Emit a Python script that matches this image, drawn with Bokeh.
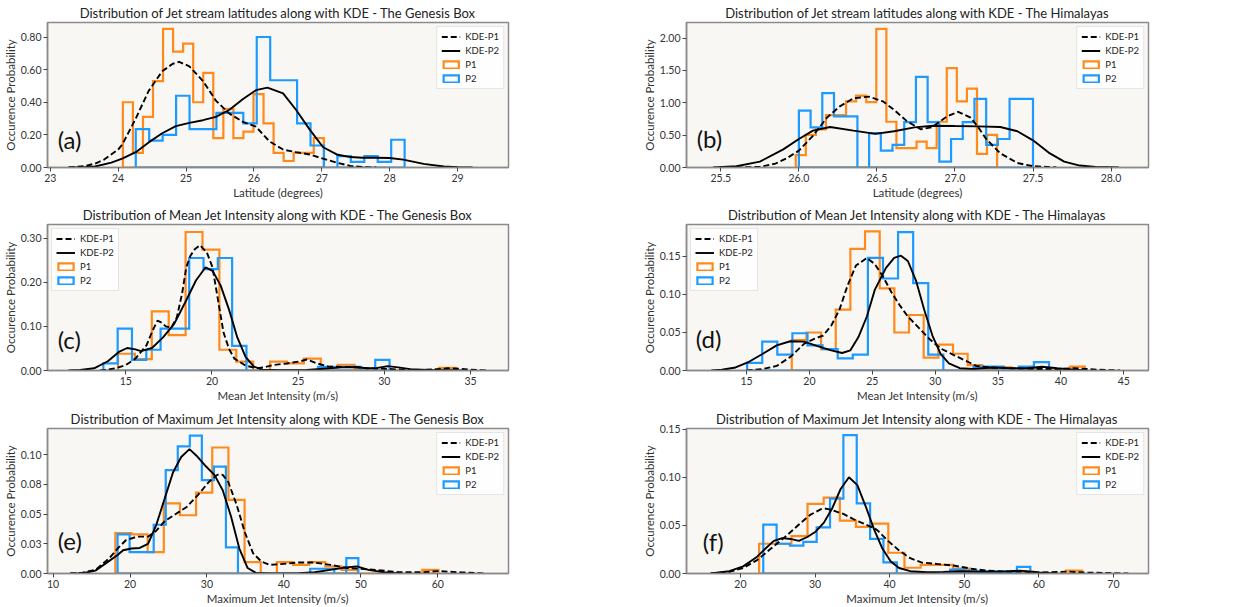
import numpy as np
from bokeh.plotting import figure
from bokeh.layouts import column, row
from bokeh.models import FixedTicker, Label, Legend, LegendItem, Range1d
from bokeh.embed import file_html
from bokeh.resources import INLINE

# ---------------- DATA ----------------
TITLES = [
    "Distribution of Jet stream latitudes along with KDE - The Genesis Box",
    "Distribution of Jet stream latitudes along with KDE - The Himalayas",
    "Distribution of Mean Jet Intensity along with KDE - The Genesis Box",
    "Distribution of Mean Jet Intensity along with KDE - The Himalayas",
    "Distribution of Maximum Jet Intensity along with KDE - The Genesis Box",
    "Distribution of Maximum Jet Intensity along with KDE - The Himalayas",
]
XLABELS = ["Latitude (degrees)", "Latitude (degrees)",
           "Mean Jet Intensity (m/s)", "Mean Jet Intensity (m/s)",
           "Maximum Jet Intensity (m/s)", "Maximum Jet Intensity (m/s)"]
YLABEL = "Occurence Probability"
TAGS = ["(a)", "(b)", "(c)", "(d)", "(e)", "(f)"]
SERIES = ["KDE-P1", "KDE-P2", "P1", "P2"]

# (a) latitude - Genesis Box
a_p1_start, a_p1_width = 24.07, 0.148
a_p1_h = [0.40, 0.09, 0.31, 0.53, 0.85, 0.71, 0.76, 0.40, 0.58, 0.18,
          0.36, 0.18, 0.22, 0.45, 0.27, 0.09, 0.04, 0.09, 0.09, 0.18]
a_p2_start, a_p2_width = 24.26, 0.198
a_p2_h = [0.235, 0.165, 0.20, 0.44, 0.235, 0.235, 0.335, 0.335, 0.27, 0.80,
          0.535, 0.535, 0.27, 0.135, 0.0, 0.07, 0.035, 0.07, 0.035, 0.17]
a_k1_x = [23.27, 23.5, 23.66, 23.8, 24.0, 24.06, 24.26, 24.45, 24.65, 24.8, 24.9, 25.05, 25.25,
          25.44, 25.64, 25.84, 26.03, 26.23, 26.43, 26.62, 26.82, 27.02, 27.22, 27.42, 27.6, 27.8]
a_k1_y = [0.0, 0.008, 0.024, 0.05, 0.11, 0.14, 0.30, 0.47, 0.59, 0.635, 0.648, 0.62, 0.53,
          0.41, 0.33, 0.28, 0.25, 0.16, 0.11, 0.094, 0.08, 0.054, 0.03, 0.01, 0.003, 0.0]
a_k2_x = [23.27, 23.5, 23.66, 23.9, 24.06, 24.26, 24.45, 24.65, 24.85, 25.05, 25.25, 25.44, 25.64,
          25.84, 26.03, 26.2, 26.43, 26.62, 26.82, 27.02, 27.22, 27.42, 27.6, 27.8, 28.0, 28.2,
          28.5, 28.8, 29.0, 29.22]
a_k2_y = [0.0, 0.002, 0.006, 0.03, 0.054, 0.094, 0.154, 0.21, 0.254, 0.274, 0.29, 0.31, 0.354,
          0.42, 0.474, 0.49, 0.454, 0.354, 0.234, 0.124, 0.08, 0.064, 0.06, 0.06, 0.058, 0.048,
          0.022, 0.006, 0.002, 0.0]
a_xticks = [23, 24, 25, 26, 27, 28, 29]
a_xlabels = ["23", "24", "25", "26", "27", "28", "29"]
a_yticks = [0.0, 0.2, 0.4, 0.6, 0.8]
a_ylabels = ["0.00", "0.20", "0.40", "0.60", "0.80"]

# (b) latitude - Himalayas
b_p1_start, b_p1_width = 25.98, 0.0645
b_p1_h = [0.19, 0.505, 0.59, 0.81, 0.81, 1.02, 1.11, 1.01, 2.14, 0.707,
          0.30, 0.30, 0.40, 0.30, 0.707, 1.535, 1.02, 1.22, 0.21, 0.505]
b_p2_start, b_p2_width = 26.0, 0.075
b_p2_h = [0.88, 0.62, 1.15, 0.79, 0.79, 0.0, 0.53, 0.26, 0.35, 0.70,
          1.40, 0.70, 0.09, 0.44, 0.70, 1.06, 0.35, 0.44, 1.06, 1.06]
b_k1_x = [25.6, 25.75, 25.85, 25.92, 26.0, 26.09, 26.18, 26.26, 26.35, 26.45, 26.54, 26.61,
          26.69, 26.78, 26.85, 26.95, 27.02, 27.1, 27.15, 27.2, 27.29, 27.4, 27.5, 27.65]
b_k1_y = [0.0, 0.01, 0.06, 0.14, 0.26, 0.49, 0.77, 0.94, 1.07, 1.095, 1.02, 0.89,
          0.72, 0.59, 0.62, 0.79, 0.86, 0.77, 0.62, 0.44, 0.22, 0.07, 0.02, 0.0]
b_k2_x = [25.45, 25.6, 25.75, 25.9, 26.0, 26.09, 26.2, 26.35, 26.49, 26.61, 26.74, 26.86,
          27.0, 27.15, 27.29, 27.4, 27.5, 27.6, 27.7, 27.8, 27.9, 28.05]
b_k2_y = [0.0, 0.02, 0.09, 0.28, 0.44, 0.57, 0.625, 0.57, 0.52, 0.56, 0.62, 0.645,
          0.64, 0.635, 0.625, 0.56, 0.42, 0.23, 0.09, 0.03, 0.01, 0.0]
b_xticks = [25.5, 26.0, 26.5, 27.0, 27.5, 28.0]
b_xlabels = ["25.5", "26.0", "26.5", "27.0", "27.5", "28.0"]
b_yticks = [0.0, 0.5, 1.0, 1.5, 2.0]
b_ylabels = ["0.00", "0.50", "1.00", "1.50", "2.00"]

# (c) mean intensity - Genesis Box
c_p1_start, c_p1_width = 14.55, 0.98
c_p1_h = [0.038, 0.026, 0.134, 0.08, 0.314, 0.274, 0.047, 0.02, 0.0, 0.02,
          0.016, 0.027, 0.007, 0.013, 0.004, 0.0, 0.0, 0.0, 0.0, 0.006]
c_p2_start, c_p2_width = 13.70, 0.83
c_p2_h = [0.016, 0.095, 0.024, 0.047, 0.095, 0.095, 0.255, 0.23, 0.255, 0.056,
          0.0, 0.0, 0.0, 0.0, 0.0, 0.008, 0.008, 0.008, 0.0, 0.024]
c_k1_x = [13.5, 14.0, 14.5, 15.0, 15.56, 16.2, 16.55, 16.84, 17.1, 17.32, 17.64, 17.96, 18.27,
          18.51, 18.75, 19.0, 19.31, 19.71, 20.03, 20.35, 20.67, 20.99, 21.3, 21.95, 22.59,
          23.0, 23.55, 24.35, 25.14, 25.5, 26.1, 26.74, 27.5, 28.3, 29.0, 30.0, 31.0, 32.0,
          33.0, 33.7, 34.3, 35.0, 35.9]
c_k1_y = [0.0, 0.002, 0.006, 0.0125, 0.027, 0.057, 0.09, 0.113, 0.108, 0.10, 0.097, 0.12, 0.175,
          0.234, 0.26, 0.275, 0.284, 0.267, 0.234, 0.16, 0.086, 0.049, 0.027, 0.011, 0.005,
          0.007, 0.0125, 0.016, 0.021, 0.025, 0.016, 0.009, 0.008, 0.008, 0.005, 0.004, 0.002,
          0.001, 0.003, 0.005, 0.004, 0.002, 0.0]
c_k2_x = [11.67, 12.36, 13.16, 13.96, 14.6, 15.08, 15.56, 15.88, 16.52, 17.16, 17.8, 18.43,
          19.07, 19.63, 20.03, 20.5, 20.99, 21.47, 21.95, 22.43, 22.9, 24.0, 25.5, 26.5, 27.5,
          28.3, 29.0, 29.6, 30.2, 30.8, 31.5, 32.5, 34.5]
c_k2_y = [0.0, 0.001, 0.005, 0.021, 0.042, 0.051, 0.048, 0.044, 0.051, 0.075, 0.105, 0.153,
          0.204, 0.234, 0.226, 0.193, 0.138, 0.075, 0.031, 0.009, 0.002, 0.0005, 0.001, 0.004,
          0.007, 0.008, 0.005, 0.006, 0.01, 0.007, 0.003, 0.001, 0.0]
c_xticks = [15, 20, 25, 30, 35]
c_xlabels = ["15", "20", "25", "30", "35"]
c_yticks = [0.0, 0.1, 0.2, 0.3]
c_ylabels = ["0.00", "0.10", "0.20", "0.30"]

# (d) mean intensity - Himalayas
d_p1_start, d_p1_width = 18.6, 1.165
d_p1_h = [0.04, 0.05, 0.028, 0.08, 0.16, 0.183, 0.108, 0.05, 0.073, 0.017,
          0.034, 0.022, 0.007, 0.002, 0.004, 0.0, 0.002, 0.0, 0.001, 0.005]
d_p2_start, d_p2_width = 15.05, 1.2
d_p2_h = [0.01, 0.038, 0.021, 0.049, 0.033, 0.028, 0.016, 0.021, 0.148, 0.121,
          0.182, 0.115, 0.021, 0.0, 0.0, 0.005, 0.005, 0.0, 0.005, 0.011]
d_k1_x = [15.0, 16.3, 17.4, 18.5, 19.57, 20.43, 21.09, 21.74, 22.39, 23.04, 23.7, 24.57, 25.2,
          25.87, 26.52, 27.17, 27.83, 28.7, 29.57, 30.43, 31.52, 32.6, 33.26, 34.5, 36.0, 38.0,
          40.0, 41.0, 42.0, 43.0, 44.7]
d_k1_y = [0.0, 0.002, 0.006, 0.018, 0.035, 0.042, 0.046, 0.059, 0.08, 0.112, 0.138, 0.148, 0.14,
          0.123, 0.103, 0.086, 0.071, 0.056, 0.041, 0.029, 0.02, 0.0115, 0.006, 0.004, 0.003,
          0.002, 0.002, 0.003, 0.002, 0.001, 0.0]
d_k2_x = [12.2, 13.04, 14.13, 15.2, 16.3, 17.4, 18.48, 19.57, 20.65, 21.74, 22.6, 23.26, 23.9,
          24.57, 25.2, 26.09, 26.74, 27.28, 27.83, 28.48, 29.13, 29.78, 30.43, 31.09, 31.96,
          33.0, 34.5, 36.0, 37.3, 38.5, 39.7, 41.0, 42.0]
d_k2_y = [0.0, 0.001, 0.004, 0.0115, 0.022, 0.033, 0.0385, 0.038, 0.032, 0.0265, 0.023, 0.0265,
          0.044, 0.071, 0.106, 0.135, 0.148, 0.151, 0.144, 0.118, 0.08, 0.046, 0.022, 0.0094,
          0.003, 0.002, 0.004, 0.003, 0.003, 0.005, 0.003, 0.001, 0.0]
d_xticks = [15, 20, 25, 30, 35, 40, 45]
d_xlabels = ["15", "20", "25", "30", "35", "40", "45"]
d_yticks = [0.0, 0.05, 0.1, 0.15]
d_ylabels = ["0.00", "0.05", "0.10", "0.15"]

# (e) maximum intensity - Genesis Box
e_p1_start, e_p1_width = 18.09, 2.1
e_p1_h = [0.034, 0.033, 0.018, 0.059, 0.049, 0.068, 0.106, 0.062, 0.0095, 0.0,
          0.0095, 0.0073, 0.0095, 0.006, 0.003, 0.0, 0.0, 0.0, 0.0, 0.003]
e_p2_start, e_p2_width = 18.38, 1.565
e_p2_h = [0.033, 0.018, 0.018, 0.041, 0.087, 0.107, 0.116, 0.0785, 0.09, 0.022,
          0.0, 0.0, 0.0, 0.0, 0.0, 0.0, 0.004, 0.004, 0.0, 0.013]
e_k1_x = [12.2, 13.7, 15.5, 17.3, 18.38, 19.46, 20.9, 22.34, 23.42, 24.5, 25.94, 27.37, 28.81,
          30.25, 31.33, 31.7, 32.05, 32.77, 33.85, 34.93, 36.0, 37.09, 38.17, 39.6, 41.76,
          43.92, 46.08, 48.24, 50.0, 52.0, 55.0, 58.0, 60.0, 63.0, 66.3]
e_k1_y = [0.0, 0.0005, 0.003, 0.0128, 0.021, 0.028, 0.031, 0.031, 0.036, 0.044, 0.05, 0.056,
          0.066, 0.077, 0.083, 0.0835, 0.083, 0.077, 0.058, 0.0345, 0.017, 0.01, 0.0073, 0.0079,
          0.0092, 0.0092, 0.0073, 0.0046, 0.004, 0.003, 0.001, 0.001, 0.002, 0.001, 0.0]
e_k2_x = [12.2, 13.7, 15.5, 17.3, 18.38, 19.1, 20.18, 21.26, 22.34, 23.42, 24.5, 25.58, 26.65,
          27.73, 28.81, 29.89, 30.97, 32.05, 33.13, 34.21, 35.29, 36.37, 38.0, 42.0, 44.0, 46.0,
          48.0, 49.5, 51.0, 53.0, 55.0]
e_k2_y = [0.0, 0.0, 0.0024, 0.0106, 0.0155, 0.0196, 0.021, 0.0215, 0.025, 0.041, 0.063, 0.085,
          0.098, 0.1046, 0.098, 0.09, 0.083, 0.07, 0.048, 0.021, 0.0046, 0.0005, 0.0, 0.0003,
          0.001, 0.003, 0.005, 0.006, 0.003, 0.001, 0.0]
e_xticks = [10, 20, 30, 40, 50, 60]
e_xlabels = ["10", "20", "30", "40", "50", "60"]
e_yticks = [0.0, 0.025, 0.05, 0.075, 0.1]
e_ylabels = ["0.00", "0.03", "0.05", "0.08", "0.10"]

# (f) maximum intensity - Himalayas
f_p1_start, f_p1_width = 22.5, 2.165
f_p1_h = [0.031, 0.031, 0.039, 0.0725, 0.079, 0.055, 0.0486, 0.052, 0.0216, 0.006,
          0.009, 0.009, 0.005, 0.002, 0.001, 0.001, 0.002, 0.0, 0.0, 0.003]
f_p2_start, f_p2_width = 23.06, 1.79
f_p2_h = [0.051, 0.031, 0.029, 0.033, 0.048, 0.078, 0.144, 0.073, 0.036, 0.0115,
          0.0, 0.0, 0.0, 0.0, 0.004, 0.003, 0.002, 0.002, 0.002, 0.007]
f_k1_x = [16.0, 18.5, 20.37, 22.24, 24.1, 25.97, 27.84, 29.33, 30.82, 31.5, 32.31, 33.8, 35.3,
          36.8, 38.3, 39.78, 41.27, 42.76, 44.25, 46.5, 48.73, 50.97, 53.0, 56.0, 58.0, 60.0,
          64.0, 66.0, 72.0]
f_k1_y = [0.0, 0.0017, 0.0057, 0.014, 0.026, 0.038, 0.051, 0.061, 0.067, 0.0675, 0.066, 0.062,
          0.056, 0.051, 0.0455, 0.034, 0.024, 0.016, 0.0115, 0.0098, 0.0081, 0.005, 0.003, 0.002,
          0.002, 0.001, 0.002, 0.001, 0.0]
f_k2_x = [16.0, 18.5, 20.37, 22.24, 23.36, 24.48, 25.6, 26.72, 27.84, 28.96, 30.07, 31.19, 32.31,
          33.43, 34.55, 35.67, 36.79, 37.91, 39.03, 40.15, 41.27, 42.76, 45.0, 47.2, 49.48, 52.0,
          55.0, 57.5, 60.0, 62.0]
f_k2_y = [0.0, 0.0024, 0.0074, 0.0175, 0.026, 0.034, 0.0368, 0.036, 0.034, 0.038, 0.0435, 0.053,
          0.068, 0.088, 0.1002, 0.092, 0.07, 0.046, 0.026, 0.0125, 0.0057, 0.0024, 0.0013,
          0.0017, 0.0024, 0.002, 0.002, 0.003, 0.001, 0.0]
f_xticks = [20, 30, 40, 50, 60, 70]
f_xlabels = ["20", "30", "40", "50", "60", "70"]
f_yticks = [0.0, 0.05, 0.1, 0.15]
f_ylabels = ["0.00", "0.05", "0.10", "0.15"]

# axis ranges (as drawn by the original)
X_RANGES = [(22.96, 29.75), (25.28, 28.24), (10.46, 37.2), (10.23, 46.96), (9.27, 69.2), (12.77, 74.7)]
Y_TOPS = [0.889, 2.24, 0.331, 0.192, 0.122, 0.151]

# ---------------- STYLE ----------------
ORANGE = "#ff8a1c"
BLUE = "#1c9aff"
BG = "#f9f7f4"
FRAME = "#8a8a8a"
FONT = "Lato"


def step_xy(start, width, heights):
    xs, ys = [start], [0.0]
    for i, h in enumerate(heights):
        x0 = start + i * width
        xs += [x0, x0 + width]
        ys += [h, h]
    xs.append(start + len(heights) * width)
    ys.append(0.0)
    return xs, ys


def panel(i, hists, kdes, xticks, xlabels, yticks, ylabels, leg_loc, tag_pos,
          width, height, borders):
    bl, br, bt, bb = borders
    p = figure(width=width, height=height, output_backend="svg", toolbar_location=None,
               x_range=Range1d(*X_RANGES[i]), y_range=Range1d(0, Y_TOPS[i]),
               min_border_left=bl, min_border_right=br, min_border_top=bt,
               min_border_bottom=bb, background_fill_color=BG,
               border_fill_color="white")
    p.title.text = TITLES[i]
    p.title.align = "center"
    p.title.text_font = FONT
    p.title.text_font_size = "13px"
    p.title.text_font_style = "normal"
    p.title.text_color = "#222222"
    p.title.standoff = 3
    p.grid.visible = False
    p.outline_line_color = FRAME
    p.outline_line_width = 1.5

    for ax, lab, tks, tls in ((p.xaxis[0], XLABELS[i], xticks, xlabels),
                              (p.yaxis[0], YLABEL, yticks, ylabels)):
        ax.axis_label = lab
        ax.axis_label_text_font = FONT
        ax.axis_label_text_font_size = "11.5px"
        ax.axis_label_text_font_style = "normal"
        ax.axis_label_text_color = "#333333"
        ax.axis_label_standoff = 1
        ax.ticker = FixedTicker(ticks=tks)
        ax.major_label_overrides = {t: s for t, s in zip(tks, tls)}
        ax.major_label_text_font = FONT
        ax.major_label_text_font_size = "10.5px"
        ax.major_label_text_color = "#333333"
        ax.major_label_standoff = 2
        ax.major_tick_out = 4
        ax.major_tick_in = 0
        ax.minor_tick_out = 0
        ax.minor_tick_in = 0
        ax.major_tick_line_color = "#444444"
        ax.axis_line_color = FRAME
        ax.axis_line_width = 1.5

    (s1, w1, h1), (s2, w2, h2) = hists
    x1, y1 = step_xy(s1, w1, h1)
    x2, y2 = step_xy(s2, w2, h2)
    r_p1 = p.patch(x1, y1, fill_alpha=0, line_color=ORANGE, line_width=2.2, line_join="miter")
    r_p2 = p.patch(x2, y2, fill_alpha=0, line_color=BLUE, line_width=2.2, line_join="miter")
    (kx1, ky1), (kx2, ky2) = kdes
    r_k1 = p.line(kx1, ky1, line_color="black", line_width=1.9, line_dash="6 3")
    r_k2 = p.line(kx2, ky2, line_color="black", line_width=1.9)
    legend = Legend(items=[LegendItem(label=SERIES[0], renderers=[r_k1]),
                           LegendItem(label=SERIES[1], renderers=[r_k2]),
                           LegendItem(label=SERIES[2], renderers=[r_p1]),
                           LegendItem(label=SERIES[3], renderers=[r_p2])],
                    location=leg_loc)
    legend.label_text_font = FONT
    legend.label_text_font_size = "9.5px"
    legend.label_text_color = "#222222"
    legend.label_height = 10
    legend.glyph_height = 9
    legend.glyph_width = 19
    legend.label_standoff = 5
    legend.spacing = 3
    legend.padding = 4
    legend.margin = 4
    legend.border_line_color = "#cccccc"
    legend.background_fill_color = "white"
    legend.background_fill_alpha = 0.85
    p.add_layout(legend)

    x0, x1r = X_RANGES[i]
    fx, fy = tag_pos
    p.add_layout(Label(x=x0 + fx * (x1r - x0), y=fy * Y_TOPS[i], text=TAGS[i],
                       text_font=FONT, text_font_size="24px", text_color="#111111",
                       text_baseline="middle", text_align="left"))
    return p


LB = (43, 122)
RB = (56, 106)
R1 = (201, 22, 29)
R2 = (203, 23, 30)
R3 = (203, 24, 29)

pa = panel(0, ((a_p1_start, a_p1_width, a_p1_h), (a_p2_start, a_p2_width, a_p2_h)),
           ((a_k1_x, a_k1_y), (a_k2_x, a_k2_y)), a_xticks, a_xlabels, a_yticks, a_ylabels,
           "top_right", (0.022, 0.19), 630, R1[0], (LB[0], LB[1], R1[1], R1[2]))
pb = panel(1, ((b_p1_start, b_p1_width, b_p1_h), (b_p2_start, b_p2_width, b_p2_h)),
           ((b_k1_x, b_k1_y), (b_k2_x, b_k2_y)), b_xticks, b_xlabels, b_yticks, b_ylabels,
           "top_right", (0.022, 0.2), 624, R1[0], (RB[0], RB[1], R1[1], R1[2]))
pc = panel(2, ((c_p1_start, c_p1_width, c_p1_h), (c_p2_start, c_p2_width, c_p2_h)),
           ((c_k1_x, c_k1_y), (c_k2_x, c_k2_y)), c_xticks, c_xlabels, c_yticks, c_ylabels,
           "top_left", (0.022, 0.21), 630, R2[0], (LB[0], LB[1], R2[1], R2[2]))
pd = panel(3, ((d_p1_start, d_p1_width, d_p1_h), (d_p2_start, d_p2_width, d_p2_h)),
           ((d_k1_x, d_k1_y), (d_k2_x, d_k2_y)), d_xticks, d_xlabels, d_yticks, d_ylabels,
           "top_left", (0.02, 0.22), 624, R2[0], (RB[0], RB[1], R2[1], R2[2]))
pe = panel(4, ((e_p1_start, e_p1_width, e_p1_h), (e_p2_start, e_p2_width, e_p2_h)),
           ((e_k1_x, e_k1_y), (e_k2_x, e_k2_y)), e_xticks, e_xlabels, e_yticks, e_ylabels,
           "top_right", (0.022, 0.23), 630, R3[0], (LB[0], LB[1], R3[1], R3[2]))
pf = panel(5, ((f_p1_start, f_p1_width, f_p1_h), (f_p2_start, f_p2_width, f_p2_h)),
           ((f_k1_x, f_k1_y), (f_k2_x, f_k2_y)), f_xticks, f_xlabels, f_yticks, f_ylabels,
           "top_right", (0.035, 0.22), 624, R3[0], (RB[0], RB[1], R3[1], R3[2]))

layout = column(row(pa, pb), row(pc, pd), row(pe, pf))
open("out.html", "w").write(file_html(layout, INLINE, title="Jet stream distributions"))
